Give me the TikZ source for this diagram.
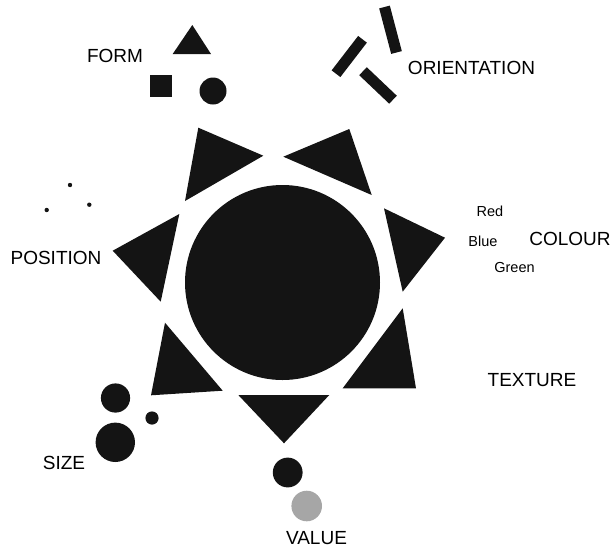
\documentclass[tikz,border=0pt]{standalone}
\usepackage{fontspec}
\setmainfont{Liberation Sans}
\begin{document}
\begin{tikzpicture}[x=1pt,y=-1pt,
  shp/.style={fill=black!92},
  big/.style={inner sep=0pt,font=\fontsize{19}{19}\selectfont},
  small/.style={inner sep=0pt,font=\fontsize{14.5}{14.5}\selectfont},
  bar/.style={draw=black!92,line width=11pt,line cap=butt}]
\useasboundingbox (0,0) rectangle (613,550);
% central disc
\fill[shp] (282.5,282.5) circle (97.5);
% seven triangles
\fill[shp] (198.3,127.7) -- (263.3,155.7) -- (185,201) -- cycle;
\fill[shp] (349.3,129) -- (283.3,156.7) -- (371.7,195) -- cycle;
\fill[shp] (384,208.3) -- (445,237.7) -- (402.7,291.7) -- cycle;
\fill[shp] (402.7,308.3) -- (416,388.3) -- (342.7,388.3) -- cycle;
\fill[shp] (238.3,395) -- (329.3,395) -- (284,443.3) -- cycle;
\fill[shp] (165,322.7) -- (222.7,390.7) -- (151,395.3) -- cycle;
\fill[shp] (179.3,214) -- (112.7,250.7) -- (160.7,301.7) -- cycle;
% FORM shapes
\fill[shp] (192.3,25) -- (211,54) -- (172.7,54) -- cycle;
\fill[shp] (150.3,75.3) rectangle (172.3,97.3);
\fill[shp] (213,91) circle (13.5);
% ORIENTATION bars
\draw[bar] (384.5,7) -- (396.5,52.5);
\draw[bar] (336,73.7) -- (362.5,39.3);
\draw[bar] (363,71.2) -- (393,99.7);
% POSITION dots
\fill[shp] (70,185) circle (2.2);
\fill[shp] (89.3,204.7) circle (2.2);
\fill[shp] (46.7,210) circle (2.2);
% SIZE circles
\fill[shp] (115.5,398) circle (14.6);
\fill[shp] (152,418) circle (6.6);
\fill[shp] (115.3,442.3) circle (19.7);
% VALUE circles
\fill[shp] (287.7,472.5) circle (14.9);
\fill[black!35] (306.7,506) circle (15.3);
% labels
\node[big] (form) at (115,55.5) {FORM};
\node[big] (orient) at (471.5,67.5) {ORIENTATION};
\node[big] (colour) at (570,238.5) {COLOUR};
\node[small] (red) at (490,211.5) {Red};
\node[small] (blue) at (483,241) {Blue};
\node[small] (green) at (514.5,267) {Green};
\node[big] (texture) at (532,380) {TEXTURE};
\node[big] (value) at (316.5,538.5) {VALUE};
\node[big] (size) at (64,463) {SIZE};
\node[big] (position) at (56,258) {POSITION};
\end{tikzpicture}
\end{document}
